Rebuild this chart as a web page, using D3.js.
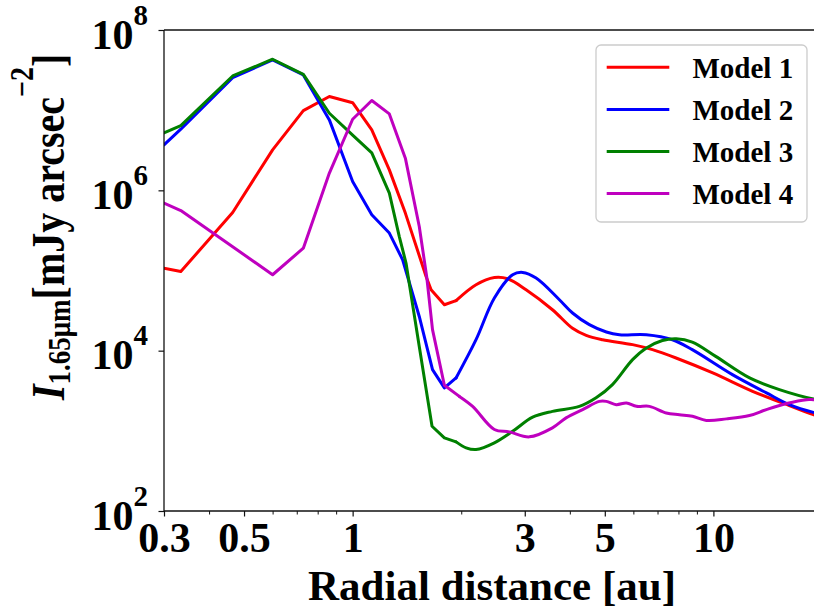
<!DOCTYPE html>
<html>
<head>
<meta charset="utf-8">
<script src="https://cdn.jsdelivr.net/npm/d3@7"></script>
<style>
  html, body { margin: 0; padding: 0; background: #fff; }
  svg { display: block; }
  text { font-family: "Liberation Serif", "Times New Roman", serif; font-weight: bold; }
</style>
</head>
<body>
<svg id="chart" width="814" height="614"></svg>
<script>
// ---------------- data ----------------
const seriesNames = ["Model 1", "Model 2", "Model 3", "Model 4"];
const seriesColors = ["#ff0000", "#0000ff", "#008000", "#bf00bf"];

const model1X = [0.3, 0.334, 0.465, 0.6, 0.73, 0.862, 1.0, 1.13, 1.264, 1.40, 1.598, 1.650, 1.796, 1.935, 2.198, 2.471, 2.690, 3.025, 3.58, 4.07, 4.44, 4.93, 5.97, 6.78, 7.88, 9.96, 12.84, 15.54, 18.93, 20];
const model1Y = [1.07e5, 9.7e4, 5.29e5, 3.2e6, 9.87e6, 1.48e7, 1.24e7, 5.67e6, 1.80e6, 5.2e5, 8.43e4, 5.75e4, 3.74e4, 4.2e4, 6.64e4, 8.18e4, 7.89e4, 5.75e4, 3.24e4, 1.90e4, 1.55e4, 1.37e4, 1.19e4, 1.03e4, 8.1e3, 5.27e3, 3.11e3, 2.23e3, 1.59e3, 1.5e3];

const model2X = [0.3, 0.334, 0.465, 0.6, 0.73, 0.862, 1.0, 1.13, 1.264, 1.376, 1.53, 1.665, 1.796, 1.935, 2.198, 2.471, 2.777, 2.96, 3.225, 3.742, 4.07, 4.53, 5.05, 5.49, 6.52, 7.70, 8.74, 11.29, 14.03, 16.24, 18.93, 20];
const model2Y = [3.69e6, 5.79e6, 2.55e7, 4.23e7, 2.75e7, 7.56e6, 1.29e6, 4.95e5, 2.93e5, 1.36e5, 2.67e4, 5.79e3, 3.43e3, 4.57e3, 1.37e4, 4.54e4, 8.85e4, 9.46e4, 8.05e4, 4.32e4, 2.95e4, 2.11e4, 1.71e4, 1.58e4, 1.58e4, 1.37e4, 1.03e4, 5.02e3, 2.97e3, 2.12e3, 1.70e3, 1.62e3];

const model3X = [0.3, 0.334, 0.465, 0.6, 0.73, 0.862, 1.0, 1.13, 1.264, 1.347, 1.406, 1.53, 1.660, 1.796, 1.935, 2.063, 2.198, 2.471, 2.777, 3.155, 3.58, 4.25, 4.73, 5.25, 5.97, 6.52, 7.22, 7.89, 8.74, 10.15, 12.6, 15.24, 18.93, 20];
const model3Y = [5.21e6, 6.42e6, 2.67e7, 4.32e7, 2.80e7, 9.16e6, 4.89e6, 2.93e6, 9.22e5, 2.65e5, 1.24e5, 1.13e4, 1.14e3, 817, 728, 614, 584, 708, 986, 1.48e3, 1.75e3, 2.02e3, 2.58e3, 3.77e3, 7.73e3, 1.08e4, 1.34e4, 1.41e4, 1.28e4, 8.49e3, 4.57e3, 3.27e3, 2.50e3, 2.42e3];

const model4X = [0.3, 0.334, 0.465, 0.6, 0.73, 0.862, 1.0, 1.13, 1.264, 1.40, 1.53, 1.604, 1.665, 1.796, 1.976, 2.151, 2.471, 2.719, 3.09, 3.58, 3.905, 4.34, 4.83, 5.05, 5.38, 5.74, 6.12, 6.65, 7.40, 8.05, 8.75, 9.56, 10.87, 12.59, 14.03, 15.94, 18.11, 18.93, 20];
const model4Y = [6.92e5, 5.60e5, 1.98e5, 8.85e4, 1.90e5, 1.64e6, 7.71e6, 1.32e7, 8.98e6, 2.52e6, 3.54e5, 8.43e4, 1.83e4, 3.7e3, 2.69e3, 2.02e3, 1.04e3, 971, 841, 1.09e3, 1.45e3, 1.84e3, 2.33e3, 2.33e3, 2.12e3, 2.23e3, 2.02e3, 2.02e3, 1.67e3, 1.59e3, 1.52e3, 1.35e3, 1.41e3, 1.55e3, 1.84e3, 2.19e3, 2.45e3, 2.45e3, 2.45e3];

// radius beyond which the model profiles are finely sampled (drawn smooth)
const smoothFrom = 1.9;

const xMajorTicks = [0.3, 0.5, 1, 3, 5, 10];
const xMajorLabels = ["0.3", "0.5", "1", "3", "5", "10"];
const xMinorTicks = [0.4, 0.6, 0.7, 0.8, 0.9, 2, 4, 6, 7, 8, 9, 20];
const yTicks = [1e2, 1e4, 1e6, 1e8];
const yTickExponents = ["2", "4", "6", "8"];
const xLabel = "Radial distance [au]";

(function () {
// ---------------- layout ----------------
const svg = d3.select("#chart");
const pL = 164, pR = 822, pT = 30, pB = 511;

const x = d3.scaleLog().domain([0.3, 20]).range([pL, pR]);
const y = d3.scaleLog().domain([1e2, 1e8]).range([pB, pT]);

svg.append("defs").append("clipPath").attr("id", "plotClip")
  .append("rect").attr("x", pL).attr("y", pT).attr("width", pR - pL).attr("height", pB - pT);

// series
const series = [
  {xs: model1X, ys: model1Y},
  {xs: model2X, ys: model2Y},
  {xs: model3X, ys: model3Y},
  {xs: model4X, ys: model4Y}
];
const lineLin = d3.line().x(d => x(d[0])).y(d => y(d[1]));
const lineSmooth = d3.line().x(d => x(d[0])).y(d => y(d[1])).curve(d3.curveCatmullRom.alpha(0.5));
const gLines = svg.append("g").attr("clip-path", "url(#plotClip)");
series.forEach((s, i) => {
  const pts = d3.zip(s.xs, s.ys);
  const k = pts.findIndex(p => p[0] >= smoothFrom);
  const early = pts.slice(0, k + 1);
  const late = pts.slice(k);
  [lineLin(early), lineSmooth(late)].forEach(dStr => {
    gLines.append("path")
      .attr("d", dStr)
      .attr("fill", "none")
      .attr("stroke", seriesColors[i])
      .attr("stroke-width", 3)
      .attr("stroke-linejoin", "round")
      .attr("stroke-linecap", "round");
  });
});

// spines
const spineColor = "#111";
svg.append("line").attr("x1", pL).attr("x2", pL).attr("y1", pT).attr("y2", pB).attr("stroke", spineColor).attr("stroke-width", 1.3);
svg.append("line").attr("x1", pL).attr("x2", pR).attr("y1", pB).attr("y2", pB).attr("stroke", spineColor).attr("stroke-width", 1.3);
svg.append("line").attr("x1", pL).attr("x2", pR).attr("y1", pT).attr("y2", pT).attr("stroke", spineColor).attr("stroke-width", 1.3);
svg.append("line").attr("x1", pR).attr("x2", pR).attr("y1", pT).attr("y2", pB).attr("stroke", spineColor).attr("stroke-width", 1.3);

// x axis via d3 axis
const xAxisMajor = d3.axisBottom(x).tickValues(xMajorTicks).tickSize(5.5).tickPadding(4)
  .tickFormat((d, i) => xMajorLabels[i]);
const gx = svg.append("g").attr("transform", `translate(0,${pB})`).call(xAxisMajor);
gx.select(".domain").remove();
gx.selectAll(".tick line").attr("stroke", spineColor).attr("stroke-width", 1.2);
gx.selectAll(".tick text").attr("fill", "#000").attr("font-size", 42).attr("font-family", "Liberation Serif").attr("font-weight", "bold")
  .attr("dy", null).attr("y", 41);

const xAxisMinor = d3.axisBottom(x).tickValues(xMinorTicks).tickSize(3.5).tickFormat("");
const gxm = svg.append("g").attr("transform", `translate(0,${pB})`).call(xAxisMinor);
gxm.select(".domain").remove();
gxm.selectAll(".tick line").attr("stroke", spineColor).attr("stroke-width", 1);

// y axis
const yAxis = d3.axisLeft(y).tickValues(yTicks).tickSize(5.5).tickFormat("");
const gy = svg.append("g").attr("transform", `translate(${pL},0)`).call(yAxis);
gy.select(".domain").remove();
gy.selectAll(".tick line").attr("stroke", spineColor).attr("stroke-width", 1.2);
gy.selectAll(".tick").each(function(d, i) {
  const t = d3.select(this).append("text")
    .attr("x", -16).attr("y", 18)
    .attr("text-anchor", "end")
    .attr("fill", "#000")
    .attr("font-size", 42);
  t.append("tspan").text("10");
  t.append("tspan").attr("font-size", 29).attr("dy", -24).text(yTickExponents[i]);
});

// x label
svg.append("text")
  .attr("x", (pL + pR) / 2 - 1).attr("y", 600)
  .attr("text-anchor", "middle")
  .attr("font-size", 43)
  .attr("fill", "#000")
  .text(xLabel);

// y label (rotated; glyphs are taller in the reference)
const yl = svg.append("text")
  .attr("transform", "translate(64,400) rotate(-90) scale(1,1.18)")
  .attr("font-size", 40)
  .attr("fill", "#000");
yl.append("tspan").attr("font-style", "italic").text("I");
yl.append("tspan").attr("font-size", 27).attr("dy", 5).text("1.65μm");
yl.append("tspan").attr("dy", -5).text("[mJy arcsec");
yl.append("tspan").attr("font-size", 28).attr("dy", -26).text("−2");
yl.append("tspan").attr("dy", 26).text("]");

// legend
const lg = svg.append("g");
lg.append("rect").attr("x", 596).attr("y", 45).attr("width", 211).attr("height", 177)
  .attr("rx", 5).attr("fill", "#fff").attr("fill-opacity", 0.8)
  .attr("stroke", "#cccccc").attr("stroke-width", 1.3);
seriesNames.forEach((name, i) => {
  const yy = 67.3 + i * 42.1;
  lg.append("line").attr("x1", 606.7).attr("x2", 669.3).attr("y1", yy).attr("y2", yy)
    .attr("stroke", seriesColors[i]).attr("stroke-width", 3);
  lg.append("text").attr("x", 692.5).attr("y", yy + 10.7).attr("font-size", 29).attr("fill", "#000").text(name);
});
})();
</script>
</body>
</html>
